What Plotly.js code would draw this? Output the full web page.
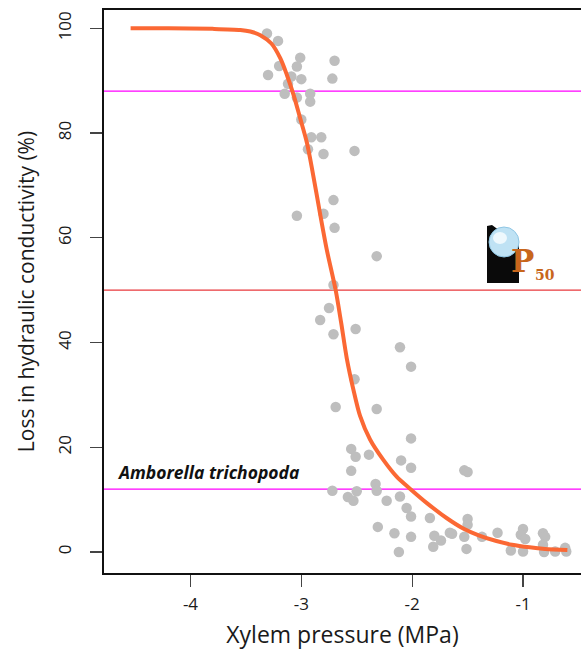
<!DOCTYPE html>
<html>
<head>
<meta charset="utf-8">
<script src="https://cdn.plot.ly/plotly-3.0.1.min.js"></script>
<style>html,body{margin:0;padding:0;background:#fff;overflow:hidden}</style>
</head>
<body>
<div id="chart" style="width:581px;height:651px"></div>
<script>
// Measured points: xylem pressure (MPa) and loss in hydraulic conductivity (%)
const pointPressure = [-3.31,-3.21,-3.01,-2.70,-3.20,-3.04,-3.30,-3.09,-3.00,-2.72,-3.12,-3.15,-3.04,-2.92,-2.92,-3.00,-2.91,-2.82,-2.94,-2.80,-2.52,-2.71,-3.04,-2.80,-2.70,-2.32,-2.71,-2.75,-2.83,-2.71,-2.51,-2.11,-2.01,-2.52,-2.69,-2.32,-2.01,-2.55,-2.51,-2.39,-2.10,-2.01,-2.55,-2.33,-2.32,-2.72,-2.50,-2.58,-2.53,-2.23,-2.11,-2.05,-2.01,-1.84,-2.31,-2.16,-2.01,-1.80,-1.74,-1.81,-2.12,-1.66,-1.53,-1.50,-1.50,-1.50,-1.53,-1.51,-1.64,-1.37,-1.23,-1.00,-1.02,-0.98,-1.11,-1.00,-0.82,-0.80,-0.82,-0.81,-0.71,-0.62,-0.61];
const pointLoss     = [99.0,97.6,94.4,93.8,92.8,92.7,91.1,90.8,90.3,90.4,89.4,87.5,86.8,87.5,86.0,82.6,79.2,79.2,76.9,76.0,76.6,67.2,64.2,64.6,61.9,56.5,51.0,46.6,44.3,41.6,42.6,39.1,35.4,33.0,27.7,27.3,21.7,19.7,18.2,18.6,17.5,16.1,15.5,13.0,11.7,11.7,11.6,10.5,9.8,9.8,10.6,8.4,6.8,6.5,4.8,3.6,2.9,3.1,2.2,1.0,0.0,3.7,15.6,15.3,6.3,5.2,2.9,0.6,3.5,2.9,3.7,4.4,3.3,2.5,0.3,0.1,3.6,2.9,1.4,0.0,0.1,0.8,0.1];

// Fitted vulnerability curve
const curvePressure = [-4.54,-4.20,-3.80,-3.55,-3.46,-3.37,-3.27,-3.19,-3.13,-3.07,-3.01,-2.95,-2.90,-2.83,-2.77,-2.69,-2.64,-2.59,-2.53,-2.47,-2.38,-2.26,-2.14,-2.02,-1.87,-1.69,-1.54,-1.40,-1.24,-1.10,-0.94,-0.80,-0.60];
const curveLoss     = [100,100,99.9,99.7,99.4,98.7,97.1,94.3,91.1,87.3,82.8,78.2,72.8,64.5,57.7,50.0,43.7,37.0,31.0,26.0,21.5,17.6,14.4,12.1,9.4,6.5,4.5,3.2,2.1,1.4,0.9,0.6,0.4];

// Reference levels (%)
const refLevels = [88, 50, 12];
const refColors = ['#FF00FF', '#E8383D', '#FF00FF'];

const xTicks = [-4, -3, -2, -1];
const yTicks = [0, 20, 40, 60, 80, 100];
const speciesName = 'Amborella trichopoda';

// plot area geometry (px) for decorative logo
const L = 104, R = 581, T = 10, B = 573;
const px = v => (v - L) / (R - L);
const py = v => (B - v) / (B - T);

const shapes = refLevels.map((lv, i) => ({
  type: 'line', xref: 'paper', yref: 'y', x0: 0, x1: 1, y0: lv, y1: lv,
  line: {color: refColors[i], width: 1.2}, layer: 'below'
}));

// P50 logo decoration
shapes.push({
  type: 'path', xref: 'paper', yref: 'paper', layer: 'above',
  path: `M ${px(487)} ${py(283)} L ${px(487)} ${py(226)} L ${px(492)} ${py(225)} L ${px(519)} ${py(245)} L ${px(519)} ${py(283)} Z`,
  fillcolor: '#0a0a0a', line: {width: 0}
});
shapes.push({
  type: 'circle', xref: 'paper', yref: 'paper', layer: 'above',
  x0: px(489), x1: px(519), y0: py(257), y1: py(227),
  fillcolor: '#bfe2f4', line: {color: '#8fc6e4', width: 1}
});
shapes.push({
  type: 'circle', xref: 'paper', yref: 'paper', layer: 'above',
  x0: px(493), x1: px(507), y0: py(244), y1: py(232),
  fillcolor: '#eef8fd', line: {width: 0}
});

const data = [
  {
    x: pointPressure, y: pointLoss, type: 'scatter', mode: 'markers',
    marker: {size: 10.5, color: '#BEBEBE'}, hoverinfo: 'x+y', showlegend: false
  },
  {
    x: curvePressure, y: curveLoss, type: 'scatter', mode: 'lines',
    line: {color: '#FB6834', width: 4, shape: 'spline', smoothing: 0.8},
    showlegend: false
  }
];

const layout = {
  width: 581, height: 651,
  margin: {l: L, r: 0, t: T, b: 651 - B},
  paper_bgcolor: '#ffffff', plot_bgcolor: '#ffffff',
  font: {family: 'Open Sans, sans-serif', color: '#1a1a1a'},
  showlegend: false,
  xaxis: {
    range: [-4.78, -0.477], tickvals: xTicks, ticktext: xTicks.map(String),
    showgrid: false, zeroline: false, showline: true, linecolor: '#111', linewidth: 2,
    mirror: true, ticks: 'outside', ticklen: 12, tickwidth: 1.2, tickcolor: '#444',
    tickfont: {size: 17, color: '#1a1a1a'}, ticklabelstandoff: 3,
    title: {text: 'Xylem pressure (MPa)', font: {size: 23, color: '#1a1a1a'}, standoff: 12}
  },
  yaxis: {
    range: [-4.0, 103.5], tickvals: yTicks, ticktext: yTicks.map(String),
    showgrid: false, zeroline: false, showline: true, linecolor: '#111', linewidth: 2,
    ticks: 'outside', ticklen: 12, tickwidth: 1.2, tickcolor: '#444', tickangle: -90,
    tickfont: {size: 17, color: '#1a1a1a'}, ticklabelstandoff: 12,
    title: {text: 'Loss in hydraulic conductivity (%)', font: {size: 21, color: '#1a1a1a'}, standoff: 13}
  },
  shapes: shapes,
  annotations: [
    {
      x: px(115), y: 15.2, xref: 'paper', yref: 'y', xanchor: 'left', yanchor: 'middle',
      text: '<b><i>' + speciesName + '</i></b>', showarrow: false,
      font: {family: 'Open Sans, sans-serif', size: 17.5, color: '#111'}
    },
    {
      x: px(509), y: py(261), xref: 'paper', yref: 'paper', xanchor: 'left', yanchor: 'middle',
      text: '<b>P</b>', showarrow: false,
      font: {family: 'DejaVu Serif, serif', size: 31, color: '#C8661C'}
    },
    {
      x: px(533), y: py(275), xref: 'paper', yref: 'paper', xanchor: 'left', yanchor: 'middle',
      text: '<b>50</b>', showarrow: false,
      font: {family: 'DejaVu Serif, serif', size: 14, color: '#C8661C'}
    }
  ]
};

Plotly.newPlot('chart', data, layout, {displayModeBar: false, staticPlot: true});
</script>
</body>
</html>
